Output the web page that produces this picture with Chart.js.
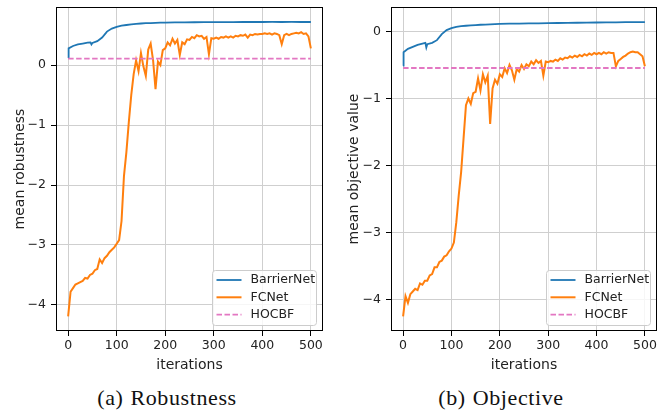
<!DOCTYPE html>
<html lang="en">
<head>
    <meta charset="UTF-8">
    <title>Robustness and Objective</title>
    <script src="https://cdn.jsdelivr.net/npm/chart.js"></script>
    <style>
        body {
            margin: 0;
            background: white;
            width: 668px;
            height: 413px;
            position: relative;
            overflow: hidden;
        }
        .panel {
            position: absolute;
            top: 0;
        }
        .caption {
            position: absolute;
            top: 385px;
            width: 334px;
            text-align: center;
            font-family: "Liberation Serif", "Times New Roman", serif;
            font-size: 22px;
            letter-spacing: 0.6px;
            color: #111;
        }
        .caption span { margin-right: 7px; }
    </style>
</head>
<body>
    <div class="panel" style="left:0"><canvas id="robChart" width="334" height="374"></canvas></div>
    <div class="panel" style="left:334px"><canvas id="objChart" width="334" height="374"></canvas></div>
    <div class="caption" style="left:0"><span>(a)</span>Robustness</div>
    <div class="caption" style="left:334px"><span>(b)</span>Objective</div>

    <script>
        // iterations sampled every 5 for FCNet
        const iters = [
            0, 5, 10, 15, 20, 25, 30, 35, 40, 45,
            50, 55, 60, 65, 70, 75, 80, 85, 90, 95,
            100, 105, 110, 115, 120, 125, 130, 135, 140, 145,
            150, 155, 160, 165, 170, 175, 180, 185, 190, 195,
            200, 205, 210, 215, 220, 225, 230, 235, 240, 245,
            250, 255, 260, 265, 270, 275, 280, 285, 290, 295,
            300, 305, 310, 315, 320, 325, 330, 335, 340, 345,
            350, 355, 360, 365, 370, 375, 380, 385, 390, 395,
            400, 405, 410, 415, 420, 425, 430, 435, 440, 445,
            450, 455, 460, 465, 470, 475, 480, 485, 490, 495,
            500
        ];
        const fcRob = [
            -4.19, -3.78, -3.72, -3.66, -3.64, -3.62, -3.60, -3.55, -3.56, -3.50,
            -3.48, -3.42, -3.40, -3.24, -3.30, -3.22, -3.18, -3.12, -3.08, -3.04,
            -2.98, -2.92, -2.60, -1.85, -1.45, -0.95, -0.50, -0.15, 0.08, -0.10,
            0.20, -0.02, -0.18, 0.26, 0.36, 0.08, -0.40, 0.06, 0.00, 0.25,
            0.28, 0.38, 0.33, 0.44, 0.36, 0.42, 0.17, 0.38, 0.35, 0.43,
            0.42, 0.47, 0.45, 0.50, 0.48, 0.49, 0.44, 0.47, 0.18, 0.45,
            0.44, 0.46, 0.44, 0.47, 0.46, 0.48, 0.46, 0.48, 0.46, 0.49,
            0.48, 0.50, 0.49, 0.51, 0.46, 0.51, 0.50, 0.52, 0.51, 0.52,
            0.52, 0.53, 0.52, 0.53, 0.51, 0.53, 0.52, 0.50, 0.35, 0.50,
            0.52, 0.50, 0.52, 0.53, 0.54, 0.53, 0.55, 0.52, 0.53, 0.48,
            0.28
        ];
        const fcObj = [
            -4.25, -3.95, -4.05, -3.92, -3.88, -3.84, -3.86, -3.76, -3.78, -3.72,
            -3.72, -3.64, -3.62, -3.52, -3.52, -3.44, -3.42, -3.36, -3.34, -3.28,
            -3.24, -3.15, -2.85, -2.45, -2.10, -1.60, -1.10, -1.00, -1.08, -0.92,
            -0.90, -0.70, -0.88, -0.64, -0.76, -0.66, -1.38, -0.85, -0.72, -0.78,
            -0.64, -0.68, -0.55, -0.62, -0.50, -0.58, -0.72, -0.56, -0.60, -0.50,
            -0.56, -0.49, -0.52, -0.45, -0.49, -0.43, -0.47, -0.44, -0.66, -0.45,
            -0.46, -0.44, -0.45, -0.42, -0.44, -0.40, -0.42, -0.39, -0.40, -0.37,
            -0.39, -0.36, -0.38, -0.35, -0.37, -0.34, -0.36, -0.33, -0.35, -0.32,
            -0.34, -0.32, -0.34, -0.31, -0.33, -0.31, -0.32, -0.32, -0.52, -0.44,
            -0.41, -0.38, -0.36, -0.33, -0.31, -0.30, -0.31, -0.31, -0.34, -0.37,
            -0.52
        ];

        const barrierIters = [0, 1, 10, 20, 30, 40, 46, 48, 50, 60, 70, 80, 90, 100, 110, 120, 130, 140, 150, 160,
            170, 180, 190, 200, 220, 240, 260, 280, 300, 320, 340, 360, 380, 400, 420, 440, 460, 480, 500];
        const barrierRob = [0.12, 0.28, 0.32, 0.345, 0.36, 0.375, 0.38, 0.345, 0.37, 0.40, 0.46, 0.56, 0.61, 0.64, 0.66, 0.67, 0.68, 0.69, 0.695, 0.70,
            0.70, 0.705, 0.708, 0.71, 0.712, 0.714, 0.716, 0.717, 0.718, 0.718, 0.719, 0.72, 0.72, 0.72, 0.721, 0.72, 0.721, 0.72, 0.72];
        const barrierObj = [-0.51, -0.31, -0.26, -0.23, -0.20, -0.18, -0.17, -0.24, -0.19, -0.17, -0.13, -0.04, 0.02, 0.05, 0.07, 0.08, 0.085, 0.09, 0.095, 0.10,
            0.103, 0.106, 0.11, 0.113, 0.116, 0.118, 0.12, 0.122, 0.124, 0.126, 0.128, 0.13, 0.132, 0.134, 0.135, 0.137, 0.138, 0.14, 0.14];

        const hocbfIters = [0, 500];
        const hocbfRob = [0.11, 0.11];
        const hocbfObj = [-0.545, -0.545];

        const xTicks = [0, 100, 200, 300, 400, 500];
        const yTicks = [-4, -3, -2, -1, 0];

        function pts(xs, ys) {
            return xs.map((x, i) => ({ x: x, y: ys[i] }));
        }

        // axes frame + matplotlib style legend in the lower right
        const frameLegend = {
            id: 'frameLegend',
            afterDraw(chart) {
                const ctx = chart.ctx;
                const a = chart.chartArea;
                ctx.save();
                ctx.strokeStyle = '#000';
                ctx.lineWidth = 1;
                ctx.strokeRect(Math.round(a.left) + 0.5, Math.round(a.top) + 0.5,
                    Math.round(a.right - a.left) - 1, Math.round(a.bottom - a.top) - 1);

                const w = 104, h = 55;
                const x = Math.round(a.right - 7 - w) + 0.5, y = Math.round(a.bottom - 6 - h) + 0.5;
                ctx.beginPath();
                ctx.roundRect(x, y, w, h, 3);
                ctx.fillStyle = 'rgba(255,255,255,0.8)';
                ctx.fill();
                ctx.strokeStyle = '#cccccc';
                ctx.stroke();
                ctx.font = '12.5px "DejaVu Sans"';
                ctx.textBaseline = 'middle';
                chart.data.datasets.forEach((ds, i) => {
                    const cy = y + 9.5 + i * 17.3;
                    ctx.beginPath();
                    ctx.setLineDash(ds.borderDash || []);
                    ctx.strokeStyle = ds.borderColor;
                    ctx.lineWidth = ds.borderWidth;
                    ctx.moveTo(x + 4, cy);
                    ctx.lineTo(x + 29, cy);
                    ctx.stroke();
                    ctx.setLineDash([]);
                    ctx.fillStyle = '#222';
                    ctx.fillText(ds.label, x + 38, cy);
                });
                ctx.restore();
            }
        };

        function makeChart(id, barrier, fc, hocbf, yTitle, yMin, yMax, yWidth, padRight) {
            return new Chart(document.getElementById(id), {
                type: 'line',
                data: {
                    datasets: [
                        { label: 'BarrierNet', data: pts(barrierIters, barrier), borderColor: '#1f77b4', borderWidth: 1.8 },
                        { label: 'FCNet', data: pts(iters, fc), borderColor: '#ff7f0e', borderWidth: 2 },
                        { label: 'HOCBF', data: pts(hocbfIters, hocbf), borderColor: '#e377c2', borderWidth: 1.8,
                          borderDash: [5.5, 2.5], order: -1 }
                    ]
                },
                options: {
                    responsive: false,
                    animation: false,
                    elements: { point: { radius: 0 }, line: { tension: 0 } },
                    layout: { padding: { top: 7, right: padRight, left: 0, bottom: 0 } },
                    plugins: { legend: { display: false }, tooltip: { enabled: false } },
                    scales: {
                        x: {
                            type: 'linear',
                            min: -25,
                            max: 525,
                            afterBuildTicks: s => { s.ticks = xTicks.map(v => ({ value: v })); },
                            afterFit: s => { s.height = 43; s.paddingLeft = 0; s.paddingRight = 0; },
                            grid: { color: '#cfcfcf', lineWidth: 1, tickColor: '#000', tickLength: 5 },
                            border: { display: false },
                            ticks: { color: '#222', font: { family: 'DejaVu Sans', size: 12.5 }, padding: 2, maxRotation: 0 },
                            title: { display: true, text: 'iterations', color: '#222', font: { family: 'DejaVu Sans', size: 14 }, padding: 0 }
                        },
                        y: {
                            min: yMin,
                            max: yMax,
                            afterBuildTicks: s => { s.ticks = yTicks.map(v => ({ value: v })); },
                            afterFit: s => { s.width = yWidth; s.paddingTop = 0; s.paddingBottom = 0; },
                            grid: { color: '#cfcfcf', lineWidth: 1, tickColor: '#000', tickLength: 5 },
                            border: { display: false },
                            ticks: {
                                color: '#222', font: { family: 'DejaVu Sans', size: 12.5 }, padding: 5,
                                callback: v => String(v).replace('-', '\u2212')
                            },
                            title: { display: true, text: yTitle, color: '#222', font: { family: 'DejaVu Sans', size: 14 }, padding: { top: 12, bottom: 0 } }
                        }
                    }
                },
                plugins: [frameLegend]
            });
        }

        makeChart('robChart', barrierRob, fcRob, hocbfRob, 'mean robustness', -4.435, 0.97, 56, 11);
        makeChart('objChart', barrierObj, fcObj, hocbfObj, 'mean objective value', -4.47, 0.365, 57, 11);
    </script>
</body>
</html>
